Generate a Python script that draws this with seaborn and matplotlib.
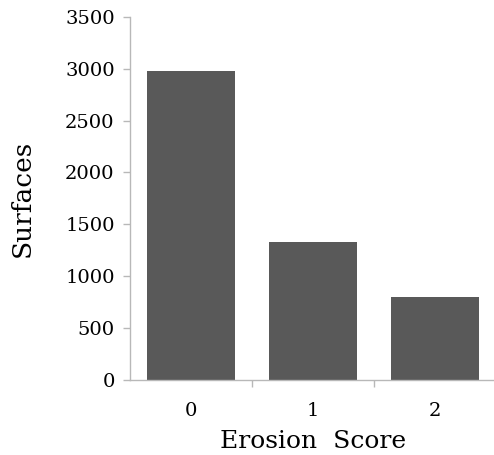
import matplotlib
matplotlib.use("Agg")
import matplotlib.pyplot as plt
import seaborn as sns
import pandas as pd

# dados
scores = ["0", "1", "2"]
surfaces = [2980, 1330, 800]

sns.set_style("white")
plt.rcParams['font.family'] = ['DejaVu Serif']
plt.rcParams['text.color'] = 'black'
plt.rcParams['axes.labelcolor'] = 'black'
plt.rcParams['xtick.color'] = 'black'
plt.rcParams['ytick.color'] = 'black'

dados = pd.DataFrame({"score": scores, "surfaces": surfaces})

fig = plt.figure(figsize=(4.94, 4.55), dpi=100)
ax = fig.add_axes([0.263, 0.165, 0.741, 0.798])

sns.barplot(data=dados, x="score", y="surfaces", color="#595959",
            width=0.72, saturation=1, linewidth=0, ax=ax)

ax.set_xlim(-0.5, 2.5)
ax.set_ylim(0, 3500)
ax.set_yticks(range(0, 3501, 500))

# ticks do eixo x entre as barras
ax.set_xticks([0.5, 1.5], minor=True)
ax.tick_params(axis='x', which='major', bottom=True, length=0, pad=16, labelsize=14)
ax.tick_params(axis='x', which='minor', bottom=True, length=5, color="#b8b8b8", width=1, direction='out')
ax.tick_params(axis='y', left=True, length=5, color="#b8b8b8", width=1, direction='out', labelsize=14, pad=6)

for lado in ['top', 'right']:
    ax.spines[lado].set_visible(False)
for lado in ['left', 'bottom']:
    ax.spines[lado].set_color("#b8b8b8")
    ax.spines[lado].set_linewidth(1)

ax.set_xlabel("Erosion  Score", fontsize=18, labelpad=7)
ax.set_ylabel("Surfaces", fontsize=19, labelpad=22)

plt.savefig("out.png", dpi=100)
